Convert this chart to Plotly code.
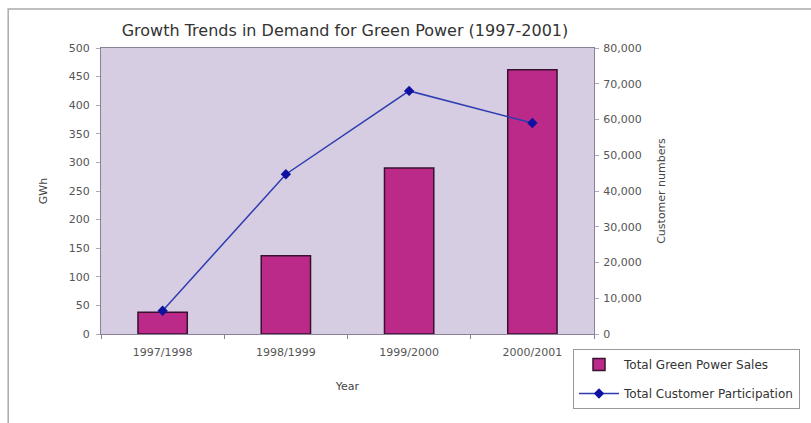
import plotly.graph_objects as go

years = ["1997/1998", "1998/1999", "1999/2000", "2000/2001"]
sales_gwh = [38, 137, 290, 462]
customers = [6500, 44700, 68000, 59000]

left_ticks = [0, 50, 100, 150, 200, 250, 300, 350, 400, 450, 500]
right_ticks = [0, 10000, 20000, 30000, 40000, 50000, 60000, 70000, 80000]

font_family = "DejaVu Sans, Arial, sans-serif"
tick_color = "#555555"
tick_size = 11

fig = go.Figure()
fig.add_trace(go.Bar(
    x=years, y=sales_gwh, name="Total Green Power Sales",
    marker=dict(color="#bb2a88", line=dict(color="#3a1030", width=1.5)),
    width=0.4, yaxis="y", legendgroup="a",
))
fig.add_trace(go.Scatter(
    x=years, y=customers, name="Total Customer Participation",
    mode="lines+markers", yaxis="y2", legendgroup="b",
    line=dict(color="#2e3cb0", width=1.5),
    marker=dict(symbol="diamond", size=8, color="#0f12a0"),
))

fig.update_layout(
    width=811, height=423,
    margin=dict(l=101, r=216, t=48, b=89),
    paper_bgcolor="white", plot_bgcolor="#d7cde3",
    font=dict(family=font_family, size=tick_size, color=tick_color),
    title=dict(text="Growth Trends in Demand for Green Power (1997-2001)",
               x=345 / 811, xanchor="center", y=1 - 30 / 423, yanchor="middle",
               font=dict(size=16, color="#333333", family=font_family)),
    bargap=0.6,
    xaxis=dict(
        title=dict(text="Year", font=dict(size=11, color="#444444"), standoff=24),
        showline=True, linecolor="#8a8098", linewidth=1, mirror=True,
        ticks="outside", tickson="boundaries", ticklen=4, tickcolor="#8a8098",
        ticklabelstandoff=8,
        tickfont=dict(size=tick_size, color=tick_color), showgrid=False,
    ),
    yaxis=dict(
        title=dict(text="GWh", font=dict(size=11, color="#444444"), standoff=18),
        range=[0, 500], tickvals=left_ticks,
        showline=True, linecolor="#8a8098", linewidth=1,
        ticks="outside", ticklen=4, tickcolor="#b0a8bc",
        ticklabelstandoff=4,
        tickfont=dict(size=tick_size, color=tick_color), showgrid=False, zeroline=False,
    ),
    yaxis2=dict(
        title=dict(text="Customer numbers", font=dict(size=11, color="#444444"), standoff=16),
        overlaying="y", side="right", range=[0, 80000], tickvals=right_ticks,
        tickformat=",d",
        showline=True, linecolor="#8a8098", linewidth=1,
        ticks="outside", ticklen=4, tickcolor="#b0a8bc",
        ticklabelstandoff=2,
        tickfont=dict(size=tick_size, color=tick_color), showgrid=False, zeroline=False,
    ),
    legend=dict(
        x=(573 - 101) / 494, xanchor="left", y=(334 - 349) / 286, yanchor="top",
        bordercolor="#999999", borderwidth=1, bgcolor="white",
        font=dict(size=12, color="#333333"),
        traceorder="grouped", tracegroupgap=10, itemwidth=40,
    ),
    showlegend=True,
)

# outer chart frame (cropped at right and bottom in the reference)
fig.add_shape(type="rect", xref="paper", yref="paper",
              x0=(8 - 101) / 494, x1=(820 - 101) / 494,
              y0=(334 - 430) / 286, y1=(334 - 9) / 286,
              line=dict(color="#aaaaaa", width=1.5), layer="below")

fig.write_html("out.html")
